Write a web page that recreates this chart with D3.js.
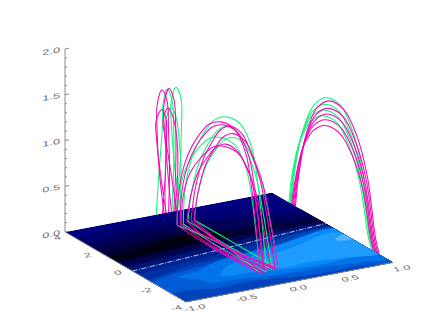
<!DOCTYPE html>
<html>
<head>
    <title>Field lines over contour plane</title>
    <script src="https://d3js.org/d3.v7.min.js"></script>
    <style>
        body { margin: 0; background: #fff; }
        text { font-family: 'Liberation Sans', sans-serif; font-size: 7.5px; fill: #6a6a6a; }
    </style>
</head>
<body>
    <svg id="chart" width="436" height="327"></svg>
    <script>
        // tick labels
        const xTicks = [-1, -0.5, 0, 0.5, 1];
        const yTicks = [-4, -2, 0, 2, 4];
        const zTicks = [0, 0.5, 1, 1.5, 2];

        // contour bands on the plane, back to front: boundary [x, y]
        const bandColors = ["#000072", "#00005a", "#000042", "#00002c", "#00064e", "#001478", "#002494", "#0030a4", "#0044bc"];
        const bandEdges = [
            [[-1.3, 3.2], [-0.6, 3.55], [0, 3.55], [0.5, 3.0], [1.3, 1.6]],
            [[-1.3, 2.4], [-0.6, 3.0], [-0.1, 3.0], [0.4, 2.4], [1.3, 1.2]],
            [[-1.3, 1.8], [-0.6, 2.4], [-0.2, 2.4], [0.3, 1.7], [1.3, 0.9]],
            [[-1.3, 1.2], [-0.6, 1.8], [-0.2, 1.9], [0.2, 1.3], [0.6, 1.0], [1.3, 0.8]],
            [[-1.3, 0.25], [-0.6, 0.6], [0, 0.8], [0.5, 0.85], [1.3, 0.75]],
            [[-1.3, -0.25], [-0.6, 0.15], [0, 0.35], [0.5, 0.55], [1.3, 0.55]],
            [[-1.3, -0.55], [-0.6, -0.25], [0, 0], [0.5, 0.25], [1.3, 0.38]],
            [[-1.3, -1.0], [-0.7, -0.7], [0, -0.35], [0.5, 0.1], [1.3, 0.25]],
            [[-1.3, -1.7], [-1, -1.5], [-0.41, -0.86], [-0.01, -0.82], [0.55, -0.04], [1.3, 0.12]]
        ];
        // closed patches drawn over the bands
        const darkPatch = [[-1.1, 1.05], [-0.7, 1.25], [-0.3, 1.8], [-0.05, 1.7], [0.15, 1.1], [-0.3, 0.9], [-0.8, 0.75]];
        const patchColors = ["#005cd4", "#0074e8", "#0a8af5", "#1e9cff", "#58b4ff"];
        const patches = [
            [[-1.02, -1.9], [-0.46, -1.2], [-0.05, -1.08], [0.49, -0.47], [1.02, -0.12], [1.05, -4], [0.74, -3.77], [0.33, -3.76], [-0.25, -3.27], [-0.58, -3.35], [-0.82, -3.03], [-1.02, -2.9]],
            [[-0.74, -1.72], [-0.52, -1.52], [-0.29, -1.03], [-0.01, -0.82], [0.3, -0.62], [0.61, -0.51], [1.02, -0.34], [1.04, -3.52], [0.76, -3.46], [0.41, -3.24], [0.03, -3.2], [-0.31, -2.89], [-0.58, -2.75], [-0.63, -2.3]],
            [[-0.42, -2.31], [-0.27, -1.63], [-0.06, -1.28], [0.25, -0.85], [0.63, -0.34], [1.03, -0.17], [1.05, -2.84], [0.77, -2.92], [0.44, -2.98], [0.12, -2.85], [-0.17, -2.53]],
            [[0.06, -1.79], [0.55, -0.94], [0.96, -0.47], [1.03, -2.98], [0.71, -2.79], [0.41, -2.57], [0.12, -2.59]],
            [[0.87, -1.07], [0.99, -0.77], [1.03, -1.2], [0.93, -1.33]]
        ];
        const dashLine = [[-1, -0.46], [1, 0.45]];

        // right family, plane x near 1: y stations, then [x, z values]
        const rightGreenY = [2.68, 2.48, 1.95, 1.29, 0.5, -0.5, -1.36, -2.02, -2.61, -2.88];
        const rightGreen = [
            [1.0, [0.02, 0.4, 0.88, 1.2, 1.37, 1.39, 1.17, 0.79, 0.15, 0]],
            [0.99, [0, 0.38, 0.84, 1.14, 1.3, 1.32, 1.11, 0.75, 0.14, 0]],
            [0.98, [0, 0.36, 0.8, 1.09, 1.24, 1.26, 1.06, 0.72, 0.13, 0]],
            [0.97, [0, 0.34, 0.76, 1.03, 1.18, 1.2, 1.0, 0.68, 0.12, 0]]
        ];
        const rightMagentaY = [2.45, 2.2, 1.7, 1.05, 0.25, -0.75, -1.6, -2.3, -2.85, -3.1];
        const rightMagenta = [
            [1.0, [0, 0.4, 0.88, 1.2, 1.36, 1.36, 1.16, 0.78, 0.15, 0]],
            [0.99, [0, 0.37, 0.83, 1.13, 1.28, 1.29, 1.09, 0.74, 0.14, 0]],
            [0.98, [0, 0.35, 0.79, 1.07, 1.22, 1.23, 1.04, 0.7, 0.13, 0]],
            [0.97, [0, 0.33, 0.75, 1.02, 1.16, 1.17, 0.99, 0.67, 0.12, 0]],
            [0.96, [0, 0.31, 0.71, 0.96, 1.1, 1.11, 0.94, 0.63, 0.11, 0]]
        ];

        // middle family: two y station sets, then [x, set, z values, base bow in x]
        const midY = [
            [2.75, 2.62, 2.16, 1.43, 0.57, -0.22, -1.08, -1.81, -2.2, -2.6, -2.75],
            [2.92, 2.66, 2.13, 1.53, 1.0, 0.34, -0.45, -1.11, -1.64, -2.43, -2.63]
        ];
        const midGreen = [
            [-0.04, 0, [0, 0.41, 0.79, 1.11, 1.36, 1.45, 1.45, 1.25, 0.89, 0.28, 0.03], -0.03],
            [-0.1, 0, [0, 0.35, 0.68, 0.95, 1.16, 1.24, 1.24, 1.06, 0.76, 0.24, 0.03], 0.08],
            [0.03, 1, [0, 0.36, 0.74, 0.99, 1.17, 1.28, 1.27, 1.1, 0.88, 0.22, 0.02], -0.02],
            [0.09, 1, [0, 0.32, 0.67, 0.89, 1.05, 1.15, 1.14, 0.99, 0.79, 0.2, 0.02], 0.0]
        ];
        const midMagenta = [
            [-0.1, 0, [0, 0.4, 0.77, 1.08, 1.32, 1.41, 1.41, 1.21, 0.86, 0.27, 0.03], -0.03],
            [-0.07, 0, [0, 0.39, 0.75, 1.05, 1.28, 1.37, 1.37, 1.17, 0.83, 0.26, 0.03], 0.05],
            [-0.06, 0, [0, 0.32, 0.62, 0.86, 1.06, 1.13, 1.13, 0.97, 0.69, 0.22, 0.02], -0.05],
            [0.02, 1, [0, 0.31, 0.63, 0.84, 0.99, 1.09, 1.08, 0.94, 0.75, 0.19, 0.02], -0.1],
            [0.06, 1, [0, 0.36, 0.74, 0.99, 1.17, 1.28, 1.27, 1.1, 0.88, 0.22, 0.02], -0.08],
            [0.09, 1, [0, 0.33, 0.69, 0.92, 1.09, 1.19, 1.18, 1.02, 0.82, 0.2, 0.02], -0.1]
        ];

        // left family at the back edge: z stations, then x values
        const leftZ = [-0.02, 0.48, 0.92, 1.19, 1.35, 1.22, 0.9, 0.46, -0.03];
        const leftZLow = [-0.02, 0.46, 0.82, 1.02, 1.14, 1.03, 0.8, 0.44, -0.03];
        const leftGreen = [
            [leftZ, [0.12, 0.06, 0.03, 0.024, 0.072, 0.121, 0.125, 0.11, 0.07]],
            [leftZ, [-0.12, -0.09, -0.06, -0.053, -0.014, 0.034, 0.05, 0.05, 0.03]],
            [leftZLow, [-0.03, -0.03, -0.024, -0.024, 0.024, 0.072, 0.1, 0.12, 0.11]]
        ];
        const leftMagenta = [
            [leftZ, [-0.04, -0.09, -0.11, -0.11, -0.063, -0.014, 0, 0.01, 0]],
            [leftZ, [0.03, -0.01, -0.04, -0.043, 0.005, 0.053, 0.07, 0.07, 0.05]],
            [leftZLow, [-0.02, -0.08, -0.115, -0.12, -0.063, -0.024, -0.02, -0.03, -0.06]],
            [leftZLow, [0.08, 0.02, -0.03, -0.053, -0.005, 0.043, 0.08, 0.09, 0.06]]
        ];

        const green = "#0cf878";
        const magenta = "#f808b8";

        const svg = d3.select("#chart");

        // oblique projection of the box
        const pxX = d3.scaleLinear().domain([-1, 1]).range([65, 272]);
        const pxY = d3.scaleLinear().domain([4, -4]).range([0, 121]);
        const pyX = d3.scaleLinear().domain([-1, 1]).range([232, 192.5]);
        const pyY = d3.scaleLinear().domain([4, -4]).range([0, 70]);
        const pyZ = d3.scaleLinear().domain([0, 2]).range([0, -183]);

        function px(x, y) { return pxX(x) + pxY(y); }
        function py(x, y, z) { return pyX(x) + pyY(y) + pyZ(z); }

        const groundLine = d3.line().x(d => px(d[0], d[1])).y(d => py(d[0], d[1], 0));
        const loopLine = d3.line().x(d => px(d[0], d[1])).y(d => py(d[0], d[1], d[2])).curve(d3.curveCatmullRom.alpha(0.5));

        function drawLoop(pts, color) {
            svg.append("path")
                .attr("d", loopLine(pts))
                .attr("fill", "none")
                .attr("stroke", color)
                .attr("stroke-width", 1.05);
        }

        function drawLeft(lines, color) {
            lines.forEach(l => drawLoop(l[1].map((x, i) => [x, 4, l[0][i]]), color));
        }
        function drawRight(lines, ys, color) {
            lines.forEach(l => drawLoop(ys.map((y, i) => [l[0], y, l[1][i]]), color));
        }
        function drawMid(lines, color) {
            lines.forEach(l => {
                const ys = midY[l[1]];
                drawLoop(ys.map((y, i) => [l[0], y, l[2][i]]), color);
                // back along the floor to the first foot
                drawLoop([[l[0], ys[ys.length - 1], 0], [l[0] + l[3], 0.1, 0], [l[0], ys[0], 0]], color);
            });
        }

        // families behind the plane
        drawLeft(leftGreen, green);
        drawLeft(leftMagenta, magenta);
        drawRight(rightGreen, rightGreenY, green);
        drawRight(rightMagenta, rightMagentaY, magenta);

        // the contour plane
        const corners = [[-1, 4], [1, 4], [1, -4], [-1, -4]];
        svg.append("clipPath").attr("id", "plane-clip")
            .append("path").attr("d", groundLine(corners) + "Z");
        const plane = svg.append("g").attr("clip-path", "url(#plane-clip)");
        plane.append("path").attr("d", groundLine(corners) + "Z").attr("fill", "#00007e");

        const smooth = d3.line().x(d => px(d[0], d[1])).y(d => py(d[0], d[1], 0)).curve(d3.curveCatmullRom.alpha(0.5));
        const smoothClosed = d3.line().x(d => px(d[0], d[1])).y(d => py(d[0], d[1], 0)).curve(d3.curveCatmullRomClosed.alpha(0.5));

        bandEdges.forEach((edge, i) => {
            const last = edge[edge.length - 1], first = edge[0];
            const d = smooth(edge) + "L" + px(last[0], -6) + "," + py(last[0], -6, 0) + "L" + px(first[0], -6) + "," + py(first[0], -6, 0) + "Z";
            plane.append("path").attr("d", d).attr("fill", bandColors[i]);
            if (i == 3) {
                plane.append("path").attr("d", smoothClosed(darkPatch)).attr("fill", "#00000e");
            }
        });
        patches.forEach((p, i) => {
            plane.append("path").attr("d", smoothClosed(p)).attr("fill", patchColors[i]);
        });

        svg.append("path").attr("d", groundLine(dashLine))
            .attr("stroke", "#e8f0ff").attr("stroke-width", 0.8).attr("stroke-dasharray", "5 1.5 1 1.5").attr("fill", "none");

        // axes
        const axisColor = "#8a8a8a";
        svg.append("path").attr("d", groundLine([[-1, 4], [-1, -4], [1, -4]]))
            .attr("fill", "none").attr("stroke", axisColor).attr("stroke-width", 1);
        svg.append("line")
            .attr("x1", px(-1, 4)).attr("x2", px(-1, 4))
            .attr("y1", py(-1, 4, 0)).attr("y2", py(-1, 4, 2))
            .attr("stroke", axisColor).attr("stroke-width", 1);

        const minorZ = d3.range(0, 21).map(i => i / 10);
        minorZ.forEach(z => {
            const major = zTicks.includes(z);
            svg.append("line")
                .attr("x1", px(-1, 4)).attr("y1", py(-1, 4, z))
                .attr("x2", px(-1, 4) + (major ? 4 : 2)).attr("y2", py(-1, 4, z) - (major ? 0.8 : 0.4))
                .attr("stroke", axisColor).attr("stroke-width", 1);
        });

        function label(sx, sy, txt, anchor, matrix) {
            svg.append("text")
                .attr("text-anchor", anchor)
                .attr("transform", `matrix(${matrix.join(",")},${sx},${sy})`)
                .text(txt);
        }
        const wall = [1.7, -0.33, 0, 1];
        const floor = [1.6, -0.3, 0.5, 0.8];
        zTicks.forEach(z => label(px(-1, 4) - 5, py(-1, 4, z) + 3, z.toFixed(1), "end", wall));
        xTicks.forEach(x => label(px(x, -4) + 10, py(x, -4, 0) + 8, x.toFixed(1), "middle", floor));
        yTicks.forEach(y => label(px(-1, y) - 3, py(-1, y, 0) + 7, String(y), "end", floor));

        // middle family stands on the plane
        drawMid(midGreen, green);
        drawMid(midMagenta, magenta);
    </script>
</body>
</html>
